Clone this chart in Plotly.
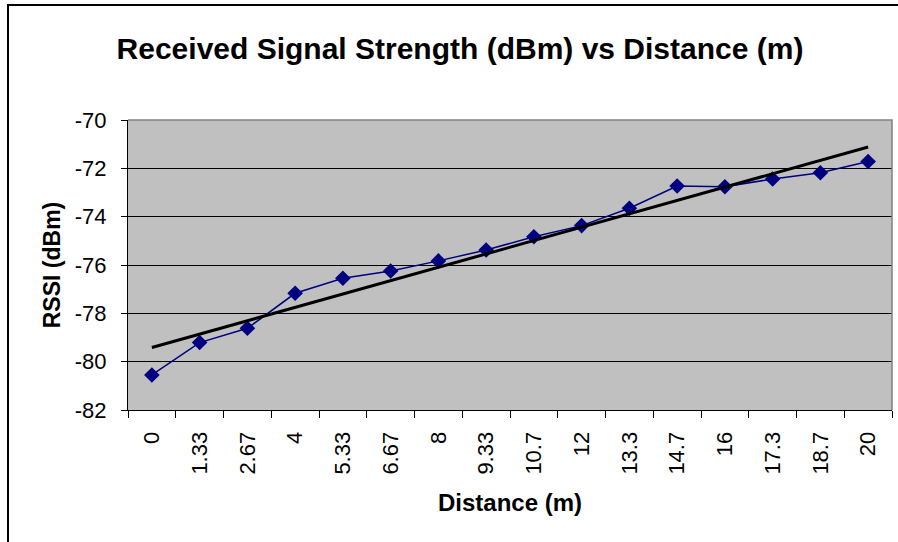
import numpy as np
import plotly.graph_objects as go

distance_labels = ["0", "1.33", "2.67", "4", "5.33", "6.67", "8", "9.33",
                   "10.7", "12", "13.3", "14.7", "16", "17.3", "18.7", "20"]
rssi_values = [-80.55, -79.21, -78.62, -77.17, -76.55, -76.25, -75.83, -75.38,
               -74.83, -74.37, -73.65, -72.73, -72.76, -72.44, -72.18, -71.72]
y_ticks = [-82, -80, -78, -76, -74, -72, -70]

# Excel-style linear trendline on category index
idx = np.arange(1, len(rssi_values) + 1)
slope, intercept = np.polyfit(idx, rssi_values, 1)
trend = slope * idx + intercept

FONT = "Liberation Sans, Arial, sans-serif"
W, H = 898, 542
L, R, T, B = 128, 6, 120, 132
pw, ph = W - L - R, H - T - B

def px_x(p):
    return (p - L) / pw

def px_y(p):
    return (H - B - p) / ph

fig = go.Figure()
fig.add_trace(go.Scatter(
    x=distance_labels, y=rssi_values, mode="lines+markers",
    line=dict(color="#000080", width=1.5),
    marker=dict(symbol="diamond", size=12, color="#000080"),
    showlegend=False, hoverinfo="x+y"))
fig.add_trace(go.Scatter(
    x=distance_labels, y=trend, mode="lines",
    line=dict(color="black", width=3),
    showlegend=False, hoverinfo="skip"))

fig.update_layout(
    width=W, height=H,
    margin=dict(l=L, r=R, t=T, b=B, pad=0),
    paper_bgcolor="white", plot_bgcolor="#C0C0C0",
    font=dict(family=FONT, color="black", size=22),
    title=dict(text="<b>Received Signal Strength (dBm) vs Distance (m)</b>",
               x=px_x(460), xref="paper", xanchor="center",
               y=1 - 48 / H, yref="container", yanchor="middle",
               font=dict(size=30, family=FONT, color="black")),
    xaxis=dict(type="category", tickangle=-90, tickson="boundaries",
               ticks="outside", ticklen=7, tickcolor="black", tickwidth=1,
               ticklabelstandoff=12,
               showline=True, linecolor="black", linewidth=1,
               showgrid=False, zeroline=False,
               tickfont=dict(size=22, family=FONT),
               title=dict(text="<b>Distance (m)</b>", standoff=20,
                          font=dict(size=24, family=FONT)),
               range=[-0.5, len(distance_labels) - 0.5]),
    yaxis=dict(range=[-82, -70], tickvals=y_ticks,
               ticktext=[str(v) for v in y_ticks],
               ticks="outside", ticklen=6, tickcolor="black", tickwidth=1,
               ticklabelstandoff=10,
               showline=True, linecolor="black", linewidth=1,
               showgrid=True, gridcolor="black", gridwidth=1,
               zeroline=False,
               tickfont=dict(size=22, family=FONT),
               title=dict(text="<b>RSSI (dBm)</b>", standoff=7,
                          font=dict(size=23, family=FONT))),
)

# gray top/right border of plot area
fig.add_shape(type="path", xref="paper", yref="paper",
              path="M 0,1 L 1,1 L 1,0", line=dict(color="#808080", width=1.5))
# outer chart frame (extends beyond view on right and bottom)
fig.add_shape(type="rect", xref="paper", yref="paper",
              x0=px_x(8), x1=px_x(910), y0=px_y(560), y1=px_y(5),
              line=dict(color="black", width=2), fillcolor="rgba(0,0,0,0)")

fig.write_html("out.html", config={"displayModeBar": False},
               post_script="document.body.style.margin='0';")
